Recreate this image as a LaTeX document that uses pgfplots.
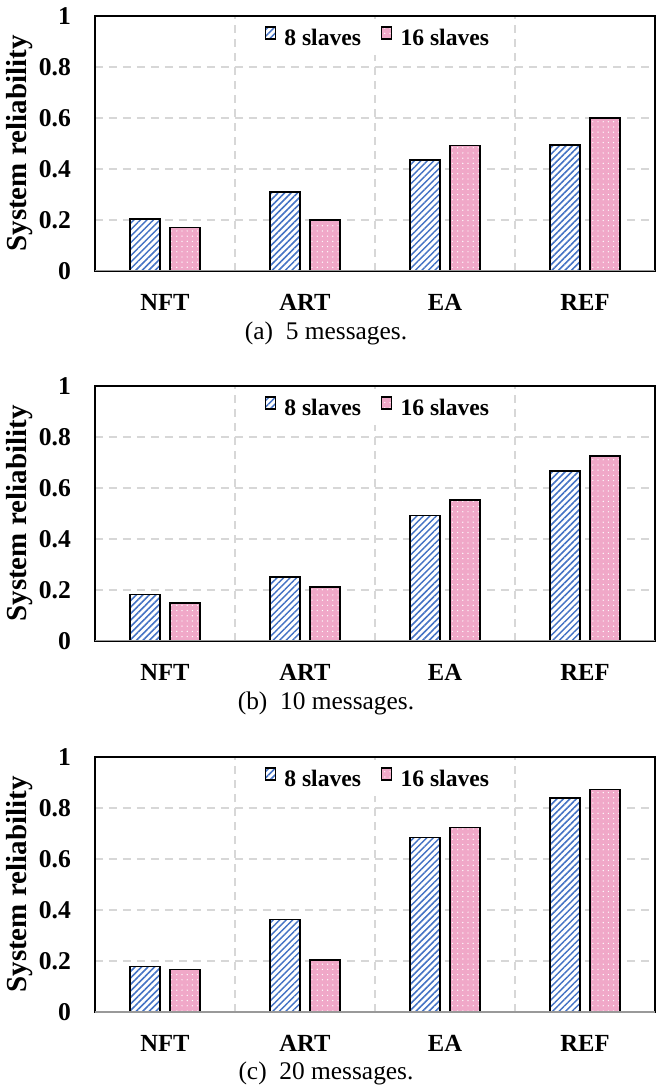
\documentclass[border=0pt]{standalone}
\usepackage{fontspec}
\setmainfont{Liberation Serif}
\usepackage{pgfplots}
\pgfplotsset{compat=1.18}
\usetikzlibrary{patterns,patterns.meta}

\definecolor{hatchblue}{RGB}{68,114,196}
\definecolor{pinkfill}{RGB}{240,168,200}
\definecolor{gridgray}{RGB}{215,215,215}

\pgfplotsset{
  relpanel/.style={
    width=280pt, height=127.5pt, scale only axis,
    anchor=south west,
    xmin=-0.5, xmax=3.5, ymin=0, ymax=1,
    xtick={0,1,2,3}, xticklabels={NFT,ART,EA,REF},
    minor xtick={0.5,1.5,2.5}, xminorgrids,
    ytick={0,0.2,0.4,0.6,0.8,1}, ymajorgrids,
    major grid style={gridgray, line width=0.9pt, dash pattern=on 4pt off 3pt},
    minor grid style={gridgray, line width=0.9pt, dash pattern=on 4pt off 3pt},
    major tick length=0pt, minor tick length=0pt,
    axis line style={black, line width=0.8pt},
    /pgf/number format/assume math mode=true,
    yticklabel style={font=\bfseries\fontsize{12.8}{13}\selectfont, xshift=-8.5pt},
    xticklabel style={font=\bfseries\fontsize{12.3}{13}\selectfont, yshift=-8pt},
    ylabel={System reliability},
    ylabel style={font=\bfseries\fontsize{14.5}{16}\selectfont, at={(axis description cs:-0.134,0.5)}, anchor=center},
    ybar, bar width=0.215,
    legend columns=2,
    legend style={at={(0.507,0.91)}, anchor=center, draw=none, fill=white,
      inner sep=1pt, font=\bfseries\fontsize{11.8}{13}\selectfont,
      /tikz/every even column/.append style={column sep=8pt}},
  },
  sqlegend/.style={legend image code/.code={\draw[##1, draw=black, line width=0.7pt] (0pt,0pt) rectangle (5pt,6pt); \path (7pt,0pt);}},
  eight/.style={bar shift=-0.143, fill=white, draw=black, line width=0.85pt,
    postaction={pattern={Lines[angle=45,distance=2.3pt,line width=0.75pt]}, pattern color=hatchblue}, sqlegend},
  sixteen/.style={bar shift=0.143, fill=pinkfill, draw=black, line width=0.85pt,
    postaction={pattern={Dots[distance=2.6pt,radius=0.35pt]}, pattern color=white}, sqlegend},
}

\begin{document}
\begin{tikzpicture}
\path[use as bounding box] (0,0) rectangle (330.5pt,544.5pt);

% (a) 5 messages
\begin{axis}[relpanel, at={(47.5pt,409pt)}]
\addplot[eight] coordinates {(0,0.204) (1,0.309) (2,0.435) (3,0.495)};
\addplot[sixteen] coordinates {(0,0.170) (1,0.199) (2,0.492) (3,0.601)};
\legend{8 slaves,16 slaves}
\draw[gray!80, line width=1pt] (rel axis cs:0,0) -- (rel axis cs:1,0);
\end{axis}
\node[font=\fontsize{12.7}{14}\selectfont] at (163pt,378pt) {(a)\ \ 5 messages.};

% (b) 10 messages
\begin{axis}[relpanel, at={(47.5pt,224pt)}]
\addplot[eight] coordinates {(0,0.182) (1,0.251) (2,0.492) (3,0.668)};
\addplot[sixteen] coordinates {(0,0.149) (1,0.213) (2,0.552) (3,0.726)};
\legend{8 slaves,16 slaves}
\draw[gray!80, line width=1pt] (rel axis cs:0,0) -- (rel axis cs:1,0);
\end{axis}
\node[font=\fontsize{12.7}{14}\selectfont] at (163pt,193pt) {(b)\ \ 10 messages.};

% (c) 20 messages
\begin{axis}[relpanel, at={(47.5pt,38.5pt)}]
\addplot[eight] coordinates {(0,0.178) (1,0.363) (2,0.684) (3,0.839)};
\addplot[sixteen] coordinates {(0,0.167) (1,0.205) (2,0.724) (3,0.872)};
\legend{8 slaves,16 slaves}
\draw[gray!80, line width=1pt] (rel axis cs:0,0) -- (rel axis cs:1,0);
\end{axis}
\node[font=\fontsize{12.7}{14}\selectfont] at (163pt,8pt) {(c)\ \ 20 messages.};
\end{tikzpicture}
\end{document}
